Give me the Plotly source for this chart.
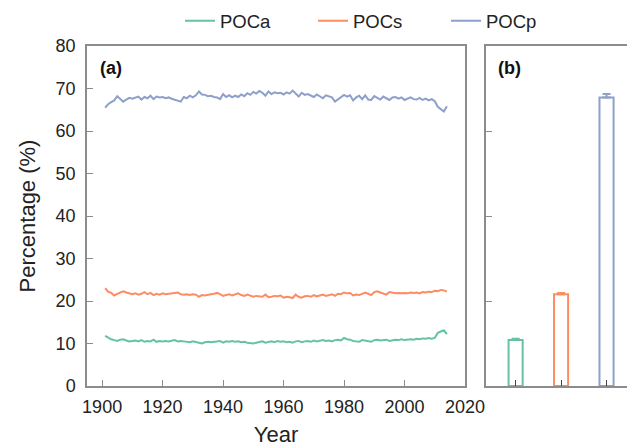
import plotly.graph_objects as go

years = list(range(1901, 2015))

poc_p = [65.5, 66.3, 66.8, 67.2, 68.2, 67.6, 66.9, 67.4, 67.8, 67.6,
         67.9, 68.1, 67.4, 68.0, 67.7, 68.3, 67.5, 68.1, 67.9, 68.0,
         67.7, 67.9, 67.6, 67.4, 67.2, 66.9, 68.0, 67.7, 68.3, 67.9,
         68.4, 69.3, 68.6, 68.5, 68.2, 68.3, 68.0, 67.9, 67.5, 68.7,
         68.0, 68.4, 67.9, 68.3, 68.0, 68.6, 68.2, 68.9, 68.5, 69.2,
         68.8, 69.4, 69.0, 68.3, 69.3, 68.7, 69.1, 68.9, 69.0, 68.6,
         69.1, 68.8, 69.5, 68.9, 68.1, 69.0, 68.5, 68.7, 68.4, 68.0,
         68.6, 68.2, 67.7, 68.4, 68.1, 67.9, 66.9, 67.4, 67.9, 68.5,
         68.1, 68.4, 67.2, 67.9, 68.3, 67.5, 68.4, 67.4, 67.3, 68.2,
         67.8, 67.4, 68.1, 67.7, 67.3, 67.9, 68.0, 67.6, 67.9, 67.3,
         67.6, 67.9, 67.5, 67.4, 67.8, 67.3, 67.6, 67.2, 67.5, 67.0,
         65.7, 65.1, 64.6, 65.8]

poc_s = [23.0, 22.2, 21.9, 21.3, 21.7, 22.1, 22.3, 22.0, 21.8, 21.6,
         21.8, 21.5, 21.7, 22.1, 21.6, 21.9, 21.4, 21.7, 21.5, 21.8,
         21.6, 21.7, 21.7, 21.9, 22.0, 21.6, 21.5, 21.6, 21.4, 21.6,
         21.5, 21.0, 21.4, 21.3, 21.5, 21.6, 21.7, 21.9, 21.6, 21.2,
         21.4, 21.6, 21.3, 21.5, 21.8, 21.4, 21.2, 21.5, 21.3, 21.0,
         21.2, 21.1, 21.0, 21.5, 20.9, 21.0, 21.2, 21.1, 21.3, 20.8,
         21.0, 20.9, 20.7, 21.5, 21.0, 20.8, 21.1, 21.2, 21.0, 21.4,
         21.1, 21.3, 21.5, 21.2, 21.4, 21.6, 21.2, 21.7, 21.6, 22.0,
         21.8, 21.9, 21.3, 21.5, 21.4, 21.8, 22.0, 21.7, 21.4, 22.1,
         22.3, 22.0, 21.7, 21.5, 22.1, 22.0, 21.8, 21.9, 21.8, 21.9,
         21.8, 22.0, 21.9, 22.0, 21.8, 22.1, 22.0, 22.2, 22.1, 22.4,
         22.3, 22.6, 22.5, 22.2]

poc_a = [11.8, 11.3, 11.0, 10.8, 10.6, 10.9, 11.0, 10.7, 10.5, 10.6,
         10.7, 10.5, 10.8, 10.4, 10.6, 10.5, 10.9, 10.4, 10.6, 10.5,
         10.6, 10.5, 10.7, 10.8, 10.5, 10.6, 10.5, 10.4, 10.3, 10.5,
         10.3, 10.2, 10.0, 10.3, 10.4, 10.3, 10.4, 10.5, 10.6, 10.2,
         10.5, 10.4, 10.6, 10.4, 10.5, 10.3, 10.4, 10.2, 10.1, 10.0,
         10.2, 10.4, 10.5, 10.2, 10.3, 10.5, 10.3, 10.6, 10.4, 10.5,
         10.3, 10.4, 10.2, 10.5, 10.6, 10.3, 10.5, 10.6, 10.4, 10.7,
         10.5, 10.6, 10.8, 10.6, 10.7, 10.5, 10.8, 10.9, 10.7, 11.3,
         11.0, 10.9, 10.6, 10.5, 10.4, 10.8, 10.7, 10.5, 10.4, 10.8,
         10.9, 10.7, 10.8, 10.9, 10.6, 10.8, 10.9, 10.8, 11.0, 10.8,
         10.9, 11.0, 10.9, 11.1, 11.0, 11.2, 11.1, 11.3, 11.1, 11.3,
         12.5, 12.9, 13.1, 12.2]

bar_names = ["POCa", "POCs", "POCp"]
bar_means = [10.8, 21.6, 67.9]
bar_errs = [0.3, 0.3, 0.8]

colors = {"POCa": "#66c2a5", "POCs": "#fc8d62", "POCp": "#8da0cb"}
series = {"POCa": poc_a, "POCs": poc_s, "POCp": poc_p}

fig = go.Figure()
for name in ["POCa", "POCs", "POCp"]:
    fig.add_trace(go.Scatter(x=years, y=series[name], mode="lines", name=name,
                             line=dict(color=colors[name], width=2),
                             xaxis="x", yaxis="y"))

for i, name in enumerate(bar_names):
    fig.add_trace(go.Bar(x=[i], y=[bar_means[i]], width=0.31,
                         marker=dict(color="white", line=dict(color=colors[name], width=2)),
                         error_y=dict(type="data", symmetric=False, array=[bar_errs[i]],
                                      arrayminus=[0], color=colors[name], thickness=2, width=4),
                         showlegend=False, xaxis="x2", yaxis="y2"))

fam = "Liberation Sans, Arial, sans-serif"
font = dict(family=fam, size=18, color="#222")
axcol = "#8c8c8c"

fig.update_layout(
    width=627, height=447,
    margin=dict(l=87, r=0, t=46, b=61),
    plot_bgcolor="white", paper_bgcolor="white",
    font=font,
    showlegend=True,
    legend=dict(orientation="h", x=180 / 627, xanchor="left", y=0.995, yanchor="top",
                xref="container", yref="container", font=dict(family=fam, size=18.5, color="#222"),
                entrywidth=88, entrywidthmode="pixels", bgcolor="rgba(0,0,0,0)"),
    xaxis=dict(domain=[0, 0.7], range=[1895, 2020], tickvals=[1900, 1920, 1940, 1960, 1980, 2000, 2020],
               ticks="inside", ticklen=6, tickcolor=axcol, showline=True, linecolor=axcol,
               linewidth=1.5, mirror=True, showgrid=False, zeroline=False, automargin=False,
               ticklabelstandoff=4,
               title=dict(text="Year", standoff=12), anchor="y"),
    yaxis=dict(domain=[0, 1], range=[0, 80], tickvals=[0, 10, 20, 30, 40, 50, 60, 70, 80],
               ticks="inside", ticklen=6, tickcolor=axcol, showline=True, linecolor=axcol,
               linewidth=1.5, mirror=True, showgrid=False, zeroline=False, automargin=False,
               ticklabelstandoff=6,
               title=dict(text="Percentage (%)", standoff=14), anchor="x"),
    xaxis2=dict(domain=[0.739, 1], range=[-0.65, 2.45], tickvals=[0, 1, 2], showticklabels=False,
                ticks="inside", ticklen=6, tickcolor="#444", showline=True, linecolor=axcol,
                linewidth=1.5, mirror=True, showgrid=False, zeroline=False, automargin=False,
                anchor="y2"),
    yaxis2=dict(domain=[0, 1], range=[0, 80], tickvals=[0, 20, 40, 60, 80], showticklabels=False,
                ticks="inside", ticklen=6, tickcolor=axcol, showline=True, linecolor=axcol,
                linewidth=1.5, mirror=False, showgrid=False, zeroline=False, automargin=False,
                anchor="x2"),
    annotations=[
        dict(text="<b>(a)</b>", x=0.02, y=0.97, xref="paper", yref="paper", xanchor="left",
             yanchor="top", showarrow=False, font=dict(family=fam, size=18, color="#111")),
        dict(text="<b>(b)</b>", x=0.757, y=0.97, xref="paper", yref="paper", xanchor="left",
             yanchor="top", showarrow=False, font=dict(family=fam, size=18, color="#111")),
    ],
)

fig.write_html("out.html", config={"displayModeBar": False},
               post_script="document.body.style.margin='0';document.body.style.overflow='hidden';")
